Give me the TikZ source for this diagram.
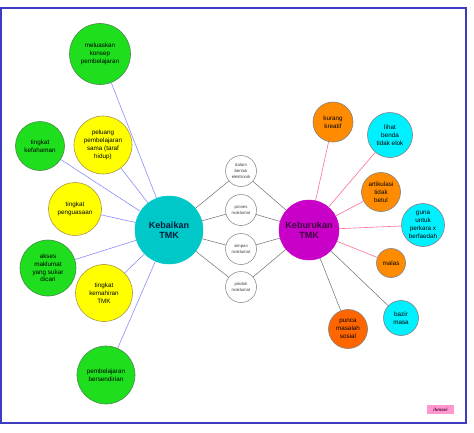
\documentclass[tikz,border=0pt]{standalone}
\usepackage{fontspec}
\setmainfont{Liberation Sans}
\definecolor{cgreen}{RGB}{30,222,30}
\definecolor{cgreenb}{RGB}{70,140,70}
\definecolor{cyellow}{RGB}{255,255,0}
\definecolor{cyellowb}{RGB}{170,150,70}
\definecolor{ccyan}{RGB}{0,200,200}
\definecolor{cmag}{RGB}{200,0,200}
\definecolor{corange}{RGB}{255,140,0}
\definecolor{cdorange}{RGB}{255,102,0}
\definecolor{clcyan}{RGB}{0,240,255}
\definecolor{lblue}{RGB}{140,140,255}
\definecolor{lpink}{RGB}{255,110,150}
\definecolor{lgray}{RGB}{110,110,110}
\definecolor{frame}{RGB}{60,60,190}
\definecolor{cpink}{RGB}{255,150,205}
\tikzset{
  bub/.style={circle,inner sep=0pt,align=center,draw=#1,line width=0.6pt,
    font=\fontsize{6.3}{7.8}\selectfont},
  bg/.style={bub=cgreenb,fill=cgreen},
  by/.style={bub=cyellowb,fill=cyellow},
  bo/.style={bub=gray,fill=corange},
  bdo/.style={bub=gray,fill=cdorange},
  bc/.style={bub=gray,fill=clcyan},
  small/.style={circle,inner sep=0pt,align=center,draw=gray,fill=white,line width=0.5pt,
    minimum size=31pt,font=\fontsize{4.3}{5.8}\selectfont,text=darkgray},
  big/.style={circle,inner sep=0pt,align=center,line width=0.5pt,
    font=\bfseries\fontsize{9}{10.5}\selectfont},
  cl/.style={lblue,line width=0.6pt},
  cp/.style={lpink,line width=0.6pt},
  cg/.style={lgray,line width=0.5pt},
}
\begin{document}
\begin{tikzpicture}[x=1pt,y=-1pt]
\useasboundingbox (0,0) rectangle (474,432);
\fill[white] (0,0) rectangle (474,432);
\draw[frame,line width=2pt] (1,8) rectangle (466,423);
% centres
\node[big,fill=ccyan,draw=ccyan,minimum size=68pt,text={rgb,255:red,0;green,30;blue,60}] (kb) at (169,230) {Kebaikan\\TMK};
\node[big,fill=cmag,draw=cmag,minimum size=60pt,text={rgb,255:red,60;green,0;blue,60}] (kr) at (309,230) {Keburukan\\TMK};
% middle
\node[small] (m1) at (241,171) {dalam\\bentuk\\elektronik};
\node[small] (m2) at (241,210) {proses\\maklumat};
\node[small] (m3) at (241,249) {simpan\\maklumat};
\node[small] (m4) at (241,287) {pindah\\maklumat};
% left
\node[bg,minimum size=61pt] (l1) at (100,54) {meluaskan\\konsep\\pembelajaran};
\node[bg,minimum size=49pt] (l2) at (40,146) {tingkat\\kefahaman};
\node[by,minimum size=58pt] (l3) at (103,145) {peluang\\pembelajaran\\sama (taraf\\hidup)};
\node[by,minimum size=53pt] (l4) at (75,209) {tingkat\\penguasaan};
\node[bg,minimum size=56pt] (l5) at (48,268) {akses\\maklumat\\yang sukar\\dicari};
\node[by,minimum size=57pt] (l6) at (104,293) {tingkat\\kemahiran\\TMK};
\node[bg,minimum size=58pt] (l7) at (106,375) {pembelajaran\\bersendirian};
% right
\node[bo,minimum size=40pt] (r1) at (333,122) {kurang\\kreatif};
\node[bc,minimum size=45pt] (r2) at (390,135) {lihat\\benda\\tidak elok};
\node[bo,minimum size=39pt] (r3) at (381,192) {artikulasi\\tidak\\betul};
\node[bc,minimum size=43pt] (r4) at (423,225) {guna\\untuk\\perkara x\\berfaedah};
\node[bo,minimum size=29pt] (r5) at (391,263) {malas};
\node[bc,minimum size=35pt] (r6) at (401,318) {bazir\\masa};
\node[bdo,minimum size=39pt] (r7) at (348,329) {punca\\masalah\\sosial};
% connectors
\foreach \n in {l1,l2,l3,l4,l5,l6,l7} \draw[cl] (kb) -- (\n);
\foreach \n in {r1,r2,r3,r4,r5} \draw[cp] (kr) -- (\n);
\foreach \n in {r6,r7} \draw[cg] (kr) -- (\n);
\foreach \n in {m1,m2,m3,m4} {\draw[cg] (kb) -- (\n); \draw[cg] (\n) -- (kr);}
% tag
\node[fill=cpink,minimum width=27pt,minimum height=9pt,inner sep=0pt,
  font=\itshape\bfseries\fontsize{4.5}{5}\selectfont,text={rgb,255:red,90;green,20;blue,70}] (tag) at (440.5,409.5) {ikmavi};
\end{tikzpicture}
\end{document}
